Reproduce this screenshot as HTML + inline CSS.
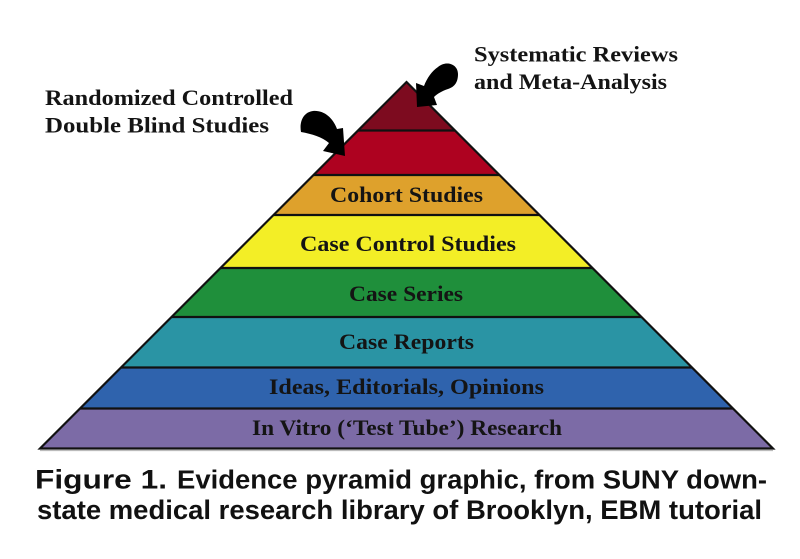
<!DOCTYPE html>
<html>
<head>
<meta charset="utf-8">
<style>
  html, body { margin: 0; padding: 0; background: #ffffff; }
  body { width: 800px; height: 559px; overflow: hidden; }
  svg { display: block; }
  .lbl { font-family: "Liberation Serif", "DejaVu Serif", serif; font-weight: bold; font-size: 22px; fill: #141414; }
  .cap { font-family: "Liberation Sans", "DejaVu Sans", sans-serif; font-weight: bold; fill: #111; }
</style>
</head>
<body>
<svg width="800" height="559" viewBox="0 0 800 559" xmlns="http://www.w3.org/2000/svg">
  <rect x="0" y="0" width="800" height="559" fill="#ffffff"/>

  <!-- Pyramid layers -->
  <polygon points="406.5,82 455,130.5 358,130.5" fill="#7d0b1f"/>
  <polygon points="358,130.5 455,130.5 499.5,175 313.5,175" fill="#ae0220"/>
  <polygon points="313.5,175 499.5,175 539.5,215 273.5,215" fill="#dea12c"/>
  <polygon points="273.5,215 539.5,215 592.5,268 220.5,268" fill="#f3ee26"/>
  <polygon points="220.5,268 592.5,268 641.5,317 171.5,317" fill="#1f8f3b"/>
  <polygon points="171.5,317 641.5,317 692,367.5 121,367.5" fill="#2a94a4"/>
  <polygon points="121,367.5 692,367.5 733,408.5 80,408.5" fill="#2f63ad"/>
  <polygon points="80,408.5 733,408.5 773,448.5 40,448.5" fill="#7c6ba6"/>

  <!-- Divider lines -->
  <g stroke="#111" stroke-width="2.2" fill="none">
    <line x1="358" y1="130.5" x2="455" y2="130.5"/>
    <line x1="313.5" y1="175" x2="499.5" y2="175"/>
    <line x1="273.5" y1="215" x2="539.5" y2="215"/>
    <line x1="220.5" y1="268" x2="592.5" y2="268"/>
    <line x1="171.5" y1="317" x2="641.5" y2="317"/>
    <line x1="121" y1="367.5" x2="692" y2="367.5"/>
    <line x1="80" y1="408.5" x2="733" y2="408.5"/>
  </g>
  <!-- Outline -->
  <polygon points="406.5,82 773,448.5 40,448.5" fill="none" stroke="#111" stroke-width="2.2" stroke-linejoin="miter"/>
  <line x1="40" y1="450.5" x2="773" y2="450.5" stroke="#bbbbbb" stroke-width="1.2"/>

  <!-- Pyramid labels -->
  <text class="lbl" x="330" y="202" textLength="153" lengthAdjust="spacingAndGlyphs">Cohort Studies</text>
  <text class="lbl" x="300" y="251" textLength="216" lengthAdjust="spacingAndGlyphs">Case Control Studies</text>
  <text class="lbl" x="349" y="301" textLength="114" lengthAdjust="spacingAndGlyphs">Case Series</text>
  <text class="lbl" x="339" y="349" textLength="135" lengthAdjust="spacingAndGlyphs">Case Reports</text>
  <text class="lbl" x="269" y="394" textLength="275" lengthAdjust="spacingAndGlyphs">Ideas, Editorials, Opinions</text>
  <text class="lbl" x="252" y="435" textLength="310" lengthAdjust="spacingAndGlyphs">In Vitro (‘Test Tube’) Research</text>

  <!-- Top labels -->
  <text class="lbl" x="45" y="105" textLength="248" lengthAdjust="spacingAndGlyphs">Randomized Controlled</text>
  <text class="lbl" x="45" y="132.5" textLength="224" lengthAdjust="spacingAndGlyphs">Double Blind Studies</text>
  <text class="lbl" x="474" y="61.5" textLength="204" lengthAdjust="spacingAndGlyphs">Systematic Reviews</text>
  <text class="lbl" x="474" y="89" textLength="193" lengthAdjust="spacingAndGlyphs">and Meta-Analysis</text>

  <!-- Arrows -->
  <path d="M 301,132 C 299,121 304,112 313,111 C 324,110 333,118 337,129 L 343,128 L 345,156 L 323,151 L 329,143 C 322,137 312,134 301,132 Z" fill="#000"/>
  <path d="M 438,67 C 446,60 458,64 458,74 C 458,83 454,87 448,89 C 442,91 437,94 434,97 L 437,105 L 417,107 L 416,83 L 424,86 C 427,78 432,71 438,67 Z" fill="#000"/>

  <!-- Caption -->
  <text class="cap" x="35" y="488.5" font-size="27" textLength="132" lengthAdjust="spacingAndGlyphs">Figure 1.</text>
  <text class="cap" x="177" y="488.5" font-size="25.5" textLength="590" lengthAdjust="spacingAndGlyphs">Evidence pyramid graphic, from SUNY down-</text>
  <text class="cap" x="37" y="519" font-size="26.5" textLength="725" lengthAdjust="spacingAndGlyphs">state medical research library of Brooklyn, EBM tutorial</text>
</svg>
</body>
</html>
